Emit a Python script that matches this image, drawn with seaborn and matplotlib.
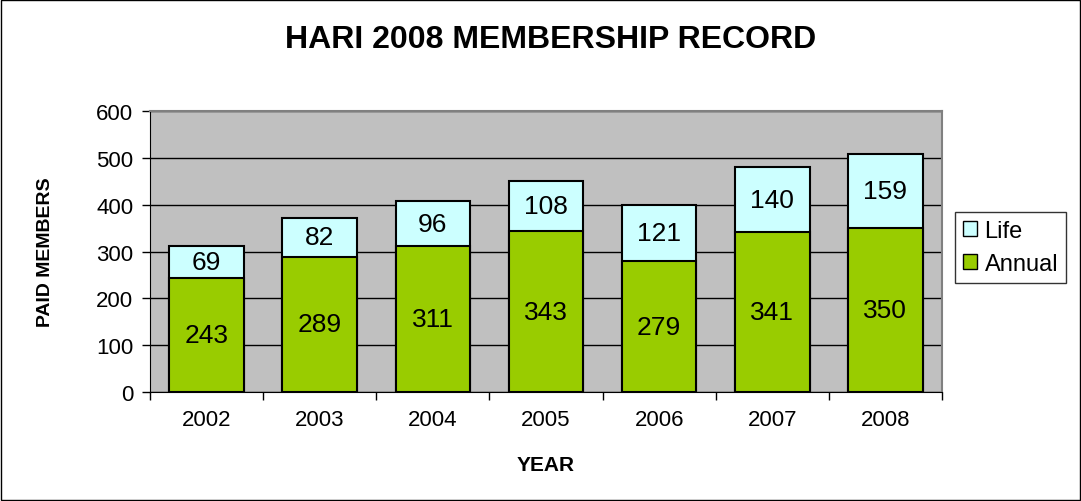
import pandas as pd
import seaborn as sns
import matplotlib.pyplot as plt
from matplotlib.patches import Patch, Rectangle

years = ["2002", "2003", "2004", "2005", "2006", "2007", "2008"]
annual = [243, 289, 311, 343, 279, 341, 350]
life = [69, 82, 96, 108, 121, 140, 159]

sns.set_style("white")
plt.rcParams["font.family"] = ["Liberation Sans", "DejaVu Sans"]
plt.rcParams["text.color"] = "black"
plt.rcParams["xtick.color"] = "black"
plt.rcParams["ytick.color"] = "black"
plt.rcParams["axes.labelcolor"] = "black"

df = pd.DataFrame({"Year": years, "Annual": annual, "Life": life})
df["Total"] = df["Annual"] + df["Life"]

fig = plt.figure(figsize=(10.81, 5.02), dpi=100)
ax = fig.add_axes([0.1388, 0.2171, 0.7326, 0.5598])
ax.set_facecolor("#C0C0C0")

life_color = "#CCFFFF"
annual_color = "#99CC00"

sns.barplot(data=df, x="Year", y="Total", color=life_color, saturation=1,
            width=0.66, edgecolor="black", linewidth=1.5, ax=ax, zorder=3)
sns.barplot(data=df, x="Year", y="Annual", color=annual_color, saturation=1,
            width=0.66, edgecolor="black", linewidth=1.5, ax=ax, zorder=3)

life_bars = ax.patches[:len(years)]
annual_bars = ax.patches[len(years):]
for bar, a, l in zip(life_bars, annual, life):
    ax.text(bar.get_x() + bar.get_width() / 2, a + l / 2, str(l),
            ha="center", va="center", fontsize=19, zorder=4)
for bar, a in zip(annual_bars, annual):
    ax.text(bar.get_x() + bar.get_width() / 2, a / 2, str(a),
            ha="center", va="center", fontsize=19, zorder=4)

ax.set_ylim(0, 600)
ax.set_xlim(-0.5, len(years) - 0.5)
ax.set_yticks(range(0, 601, 100))
ax.yaxis.grid(True, color="black", linewidth=1)
ax.set_axisbelow(True)
ax.tick_params(axis="y", labelsize=16, length=6, width=1, direction="out", left=True, pad=6)
ax.tick_params(axis="x", labelsize=16, length=0, pad=12)
ax.set_xticks([i - 0.5 for i in range(len(years) + 1)], minor=True)
ax.tick_params(axis="x", which="minor", length=6, width=1, direction="out", bottom=True)

for side in ["top", "right"]:
    ax.spines[side].set_color("#808080")
    ax.spines[side].set_linewidth(1.5)
ax.spines["left"].set_color("black")
ax.spines["bottom"].set_color("black")

ax.set_xlabel("YEAR", fontsize=15, fontweight="bold", labelpad=18)
ax.set_ylabel("PAID MEMBERS", fontsize=14, fontweight="bold", labelpad=30)
fig.text(0.509, 0.92, "HARI 2008 MEMBERSHIP RECORD", ha="center", va="center",
         fontsize=23, fontweight="bold")

handles = [Patch(facecolor=life_color, edgecolor="black", label="Life"),
           Patch(facecolor=annual_color, edgecolor="black", label="Annual")]
leg = fig.legend(handles=handles, loc="upper left", bbox_to_anchor=(0.8834, 0.5757),
                 fontsize=17, frameon=True, fancybox=False, handlelength=0.6,
                 handleheight=0.6, handletextpad=0.3, borderpad=0.35, labelspacing=0.45,
                 borderaxespad=0)
leg.get_frame().set_edgecolor("black")
leg.get_frame().set_linewidth(1)

fig.patches.append(Rectangle((0.001, 0.002), 0.998, 0.996, transform=fig.transFigure,
                             fill=False, edgecolor="black", linewidth=1))

fig.savefig("out.png", dpi=100)
